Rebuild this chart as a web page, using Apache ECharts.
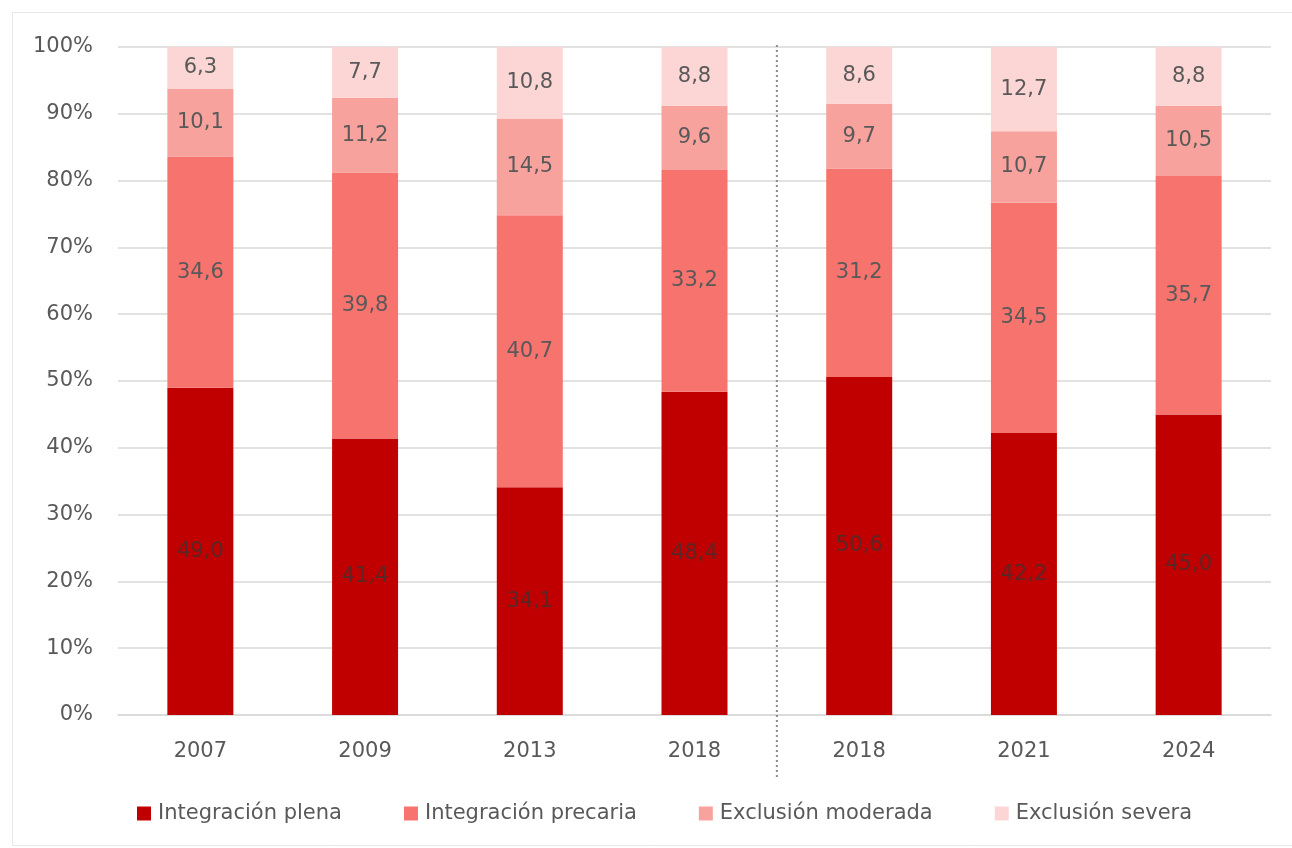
<!DOCTYPE html>
<html>
<head>
<meta charset="utf-8">
<script src="https://cdn.jsdelivr.net/npm/echarts@6/dist/echarts.min.js"></script>
<style>
  html, body { margin: 0; padding: 0; background: #ffffff; }
  #chart { width: 1292px; height: 848px; }
</style>
</head>
<body>
<div id="chart"></div>
<script>
// Survey waves (two series of 2018 shown side by side, split by a dotted rule)
const years = ['2007', '2009', '2013', '2018', '2018', '2021', '2024'];

// Shares of population (%) by integration/exclusion level
const integracionPlena    = [49.0, 41.4, 34.1, 48.4, 50.6, 42.2, 45.0];
const integracionPrecaria = [34.6, 39.8, 40.7, 33.2, 31.2, 34.5, 35.7];
const exclusionModerada   = [10.1, 11.2, 14.5,  9.6,  9.7, 10.7, 10.5];
const exclusionSevera     = [ 6.3,  7.7, 10.8,  8.8,  8.6, 12.7,  8.8];

const seriesNames = ['Integración plena', 'Integración precaria', 'Exclusión moderada', 'Exclusión severa'];
const seriesColors = ['#C00000', '#F6736E', '#F8A29D', '#FCD6D4'];
const seriesData = [integracionPlena, integracionPrecaria, exclusionModerada, exclusionSevera];

const FONT = '"DejaVu Sans", "Open Sans", sans-serif';
const TEXT = '#595959';

const chart = echarts.init(document.getElementById('chart'), null, { renderer: 'canvas' });

const fmt = v => v.toFixed(1).replace('.', ',');

chart.setOption({
  animation: false,
  backgroundColor: '#ffffff',
  grid: { left: 118, right: 21, top: 47, bottom: 133, containLabel: false },
  legend: {
    bottom: 19,
    left: 132,
    itemWidth: 14,
    itemHeight: 14,
    itemGap: 62,
    icon: 'rect',
    textStyle: { color: TEXT, fontSize: 21, fontFamily: FONT, padding: [0, 0, 0, 2] },
    data: seriesNames
  },
  xAxis: {
    type: 'category',
    data: years,
    axisLine: { show: true, lineStyle: { color: '#D9D9D9', width: 1.5 } },
    axisTick: { show: false },
    axisLabel: { color: TEXT, fontSize: 21, fontFamily: FONT, margin: 26 }
  },
  yAxis: {
    type: 'value',
    min: 0,
    max: 100,
    interval: 10,
    axisLine: { show: false },
    axisTick: { show: false },
    splitLine: { lineStyle: { color: '#D9D9D9', width: 1.5 } },
    axisLabel: { color: TEXT, fontSize: 21, fontFamily: FONT, margin: 25, formatter: '{value}%' }
  },
  series: seriesData.map((d, i) => ({
    name: seriesNames[i],
    type: 'bar',
    stack: 'total',
    barWidth: 66,
    data: d,
    itemStyle: { color: seriesColors[i] },
    label: {
      show: true,
      position: 'inside',
      color: i === 0 ? '#5a2626' : TEXT,
      fontSize: 21,
      fontFamily: FONT,
      formatter: p => fmt(p.value)
    }
  }))
});

// Dotted divider between the two 2018 waves, plus a light frame
function drawExtras() {
  const x3 = chart.convertToPixel({ xAxisIndex: 0 }, 3);
  const x4 = chart.convertToPixel({ xAxisIndex: 0 }, 4);
  const xMid = (x3 + x4) / 2;
  const yTop = chart.convertToPixel({ yAxisIndex: 0 }, 100);
  chart.setOption({
    graphic: [
      {
        type: 'rect',
        shape: { x: 12.5, y: 12.5, width: 1292, height: 833 },
        style: { fill: 'none', stroke: '#E6E6E6', lineWidth: 1 },
        silent: true,
        z: 0
      },
      {
        type: 'line',
        shape: { x1: xMid, y1: yTop - 2, x2: xMid, y2: 778 },
        style: { stroke: '#8C8C8C', lineWidth: 2, lineDash: [2, 3] },
        silent: true,
        z: 10
      }
    ]
  });
}
drawExtras();
</script>
</body>
</html>
